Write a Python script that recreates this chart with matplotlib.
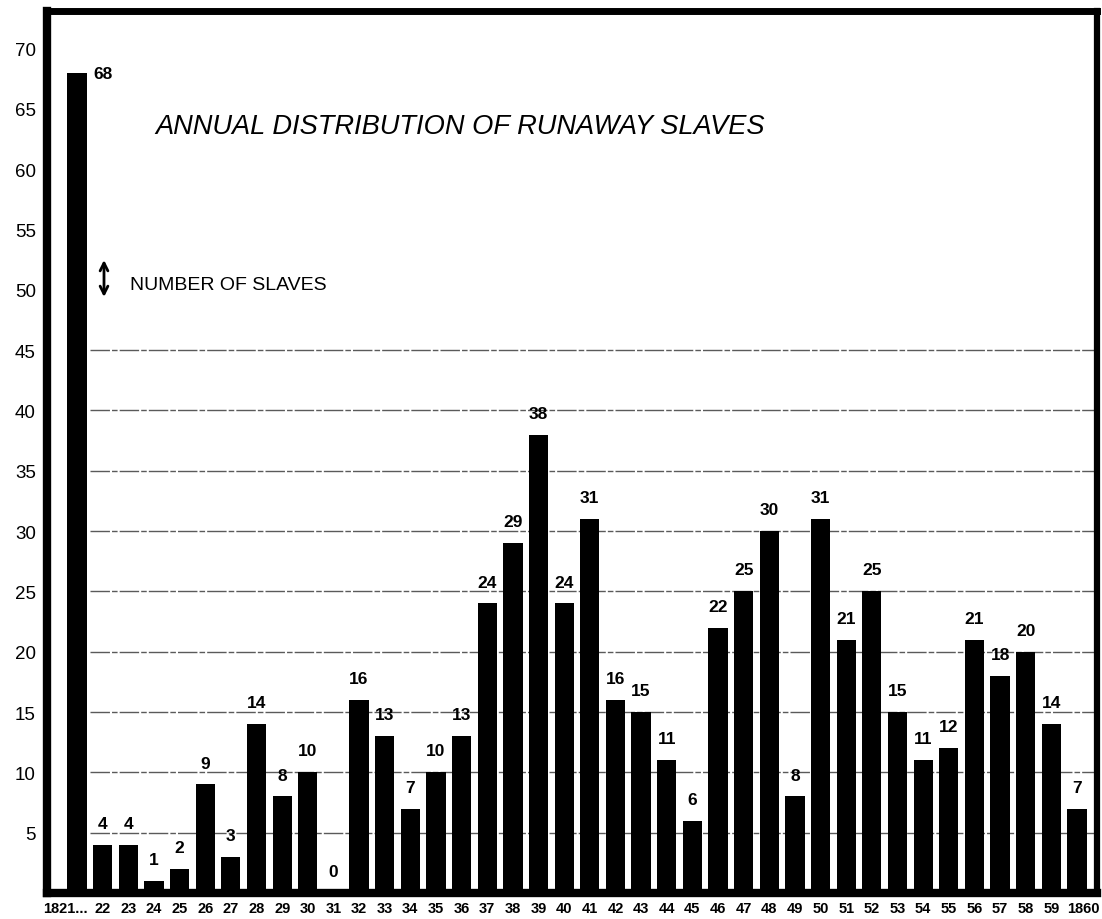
import matplotlib
matplotlib.use("Agg")
import matplotlib.pyplot as plt
from matplotlib.transforms import ScaledTranslation

plt.rcParams['font.family'] = ['Liberation Sans', 'DejaVu Sans']

years = ["1821..."] + [str(y) for y in range(22, 60)] + ["1860"]
counts = [68, 4, 4, 1, 2, 9, 3, 14, 8, 10,
          0, 16, 13, 7, 10, 13, 24, 29, 38, 24,
          31, 16, 15, 11, 6, 22, 25, 30, 8, 31,
          21, 25, 15, 11, 12, 21, 18, 20, 14, 7]
y_ticks = list(range(5, 75, 5))
grid_levels = list(range(5, 50, 5))
title = "ANNUAL DISTRIBUTION OF RUNAWAY SLAVES"
legend_text = "NUMBER OF SLAVES"

W, H = 1102, 920
fig = plt.figure(figsize=(W / 100, H / 100), dpi=100)
ax = fig.add_axes([47 / W, (H - 894) / H, (1097 - 47) / W, (894 - 12) / H])

x = list(range(len(counts)))
ax.set_xlim(-1.17, 39.78)
ax.set_ylim(0, 73.1)

ax.hlines(grid_levels, 0.5, 39.78, colors='#5a5a5a', linewidth=1.0,
          linestyles=(0, (14, 1.5, 4, 1.5)), zorder=1)

ax.bar(x, counts, width=0.75, color='black', zorder=2)

for xi, v in zip(x, counts):
    if xi == 0:
        ax.annotate(str(v), (xi + 0.375, v), xytext=(5, -1), textcoords='offset points',
                    ha='left', va='center', fontsize=12.5, fontweight='bold')
    else:
        ax.annotate(str(v), (xi, v), xytext=(0, 10), textcoords='offset points',
                    ha='center', va='bottom', fontsize=12.5, fontweight='bold')

ax.set_xticks(x)
ax.set_xticklabels(years, fontsize=10.5, fontweight='bold')
ax.set_yticks(y_ticks)
ax.set_yticklabels([str(t) for t in y_ticks], fontsize=13.5)
ax.tick_params(axis='both', length=0)
ax.tick_params(axis='x', pad=6)
ax.tick_params(axis='y', pad=8)

labels = ax.get_xticklabels()
labels[0].set_transform(labels[0].get_transform() + ScaledTranslation(-0.12, 0, fig.dpi_scale_trans))
labels[-1].set_transform(labels[-1].get_transform() + ScaledTranslation(0.06, 0, fig.dpi_scale_trans))

for side, lw in [('left', 6), ('top', 5), ('right', 4.5), ('bottom', 6)]:
    ax.spines[side].set_linewidth(lw)
    ax.spines[side].set_color('black')

fig.text(155 / W, (H - 127) / H, title, fontsize=19.6, style='italic',
         ha='left', va='center')

ax.annotate('', xy=(104, H - 261), xytext=(104, H - 298), xycoords='figure pixels',
            textcoords='figure pixels',
            arrowprops=dict(arrowstyle='<->', lw=2.0, color='black',
                            mutation_scale=14, shrinkA=0, shrinkB=0))
fig.text(130 / W, (H - 285) / H, legend_text, fontsize=14, ha='left', va='center')

fig.savefig("out.png", dpi=100)
